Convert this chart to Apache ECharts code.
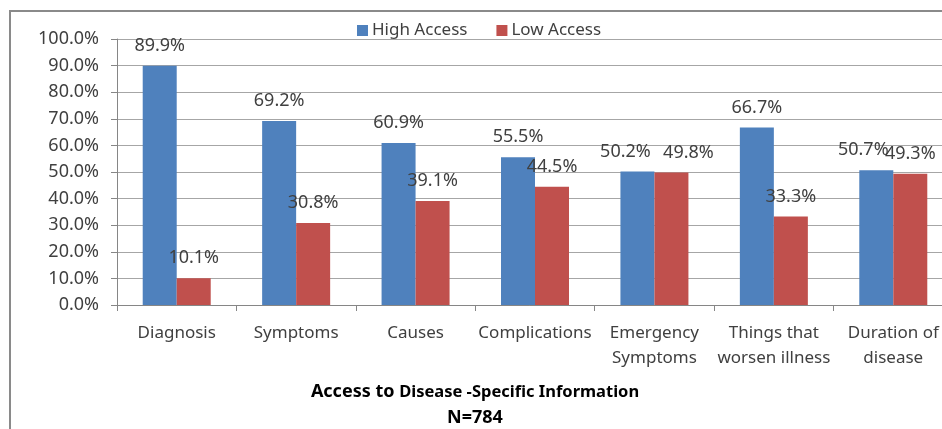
<!DOCTYPE html>
<html>
<head>
<meta charset="utf-8">
<script src="https://cdn.jsdelivr.net/npm/echarts@6/dist/echarts.min.js"></script>
<style>
  html, body { margin: 0; padding: 0; background: #fff; overflow: hidden; }
  #chart { width: 942px; height: 429px; }
</style>
</head>
<body>
<div id="chart"></div>
<script>
// Share of respondents by type of disease-specific information
const categories = [
  'Diagnosis', 'Symptoms', 'Causes', 'Complications',
  'Emergency\nSymptoms', 'Things that\nworsen illness', 'Duration of\ndisease'
];
const highAccess = [89.9, 69.2, 60.9, 55.5, 50.2, 66.7, 50.7];
const lowAccess  = [10.1, 30.8, 39.1, 44.5, 49.8, 33.3, 49.3];
const seriesNames = ['High Access', 'Low Access'];
const yTicks = { min: 0, max: 100, interval: 10 };

// labels that sit sideways to avoid overlapping neighbours
const highLabelShift = [0, 0, 0, 0, -12, 0, -13];
const lowLabelShift  = [0, 0, 0, 0, 17, 0, 0];

const FONT = '"Noto Sans", sans-serif';
const TEXT = '#404040';

function pct(v) { return v.toFixed(1) + '%'; }

function buildData(values, shifts) {
  return values.map((v, i) => ({
    value: v,
    label: { offset: [shifts[i], 0] }
  }));
}

const labelStyle = {
  show: true,
  position: 'top',
  distance: 11,
  fontFamily: FONT,
  fontSize: 18,
  color: TEXT,
  formatter: p => pct(p.value)
};

const chart = echarts.init(document.getElementById('chart'), null, { renderer: 'canvas' });

chart.setOption({
  animation: false,
  backgroundColor: '#ffffff',
  graphic: [{
    type: 'polyline',
    shape: { points: [[10, 440], [10, 11], [960, 11]] },
    style: { fill: 'none', stroke: '#8a8a8a', lineWidth: 2 },
    silent: true,
    z: -10
  }],
  title: {
    text: '{a|Access to }{b|Disease -Specific Information}\n{a|N=784}',
    left: 470,
    textAlign: 'center',
    top: 374,
    textStyle: {
      rich: {
        a: { fontFamily: FONT, fontWeight: 'bold', fontSize: 18, color: '#000', lineHeight: 26 },
        b: { fontFamily: FONT, fontWeight: 'bold', fontSize: 16.5, color: '#000', lineHeight: 26 }
      }
    }
  },
  legend: {
    data: seriesNames,
    left: 352,
    top: 17,
    itemWidth: 11,
    itemHeight: 11,
    itemGap: 29,
    icon: 'rect',
    textStyle: { fontFamily: FONT, fontSize: 17, color: TEXT, padding: [0, 0, 0, -1] }
  },
  grid: {
    left: 117, top: 39, right: -11, bottom: 124,
    containLabel: false,
    outerBoundsMode: 'none'
  },
  xAxis: {
    type: 'category',
    data: categories,
    boundaryGap: true,
    axisLine: { lineStyle: { color: '#868686', width: 1 } },
    axisTick: { show: true, length: 6, alignWithLabel: false, lineStyle: { color: '#868686' } },
    axisLabel: {
      interval: 0,
      margin: 16,
      fontFamily: FONT,
      fontSize: 17,
      lineHeight: 25,
      color: TEXT
    }
  },
  yAxis: {
    type: 'value',
    min: yTicks.min,
    max: yTicks.max,
    interval: yTicks.interval,
    axisLine: { show: true, lineStyle: { color: '#868686', width: 1 } },
    axisTick: { show: true, length: 6, lineStyle: { color: '#868686' } },
    splitLine: { show: true, lineStyle: { color: '#a6a6a6', width: 1 } },
    axisLabel: {
      margin: 18,
      fontFamily: FONT,
      fontSize: 18,
      color: TEXT,
      formatter: v => pct(v)
    }
  },
  series: [
    {
      name: seriesNames[0],
      type: 'bar',
      barWidth: 34,
      barGap: '0%',
      itemStyle: { color: '#4f81bd' },
      label: labelStyle,
      data: buildData(highAccess, highLabelShift)
    },
    {
      name: seriesNames[1],
      type: 'bar',
      barWidth: 34,
      barGap: '0%',
      itemStyle: { color: '#c0504d' },
      label: labelStyle,
      data: buildData(lowAccess, lowLabelShift)
    }
  ]
});
</script>
</body>
</html>
